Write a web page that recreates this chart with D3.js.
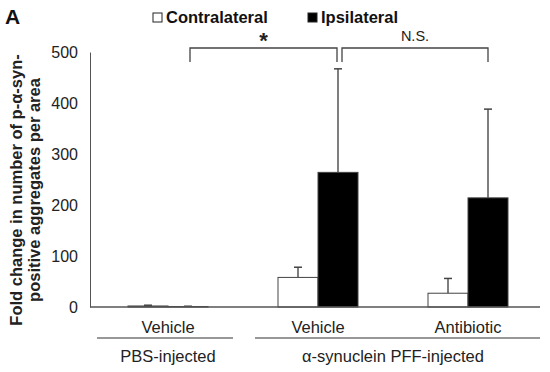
<!DOCTYPE html>
<html><head><meta charset="utf-8">
<script src="https://cdn.jsdelivr.net/npm/d3@7"></script>
<style>body{margin:0;background:#fff}svg{display:block}text{font-family:Arial,"Liberation Sans",sans-serif}</style>
</head><body><svg id="c" width="550" height="372"></svg>
<script>
const groups = ["PBS-Vehicle","PFF-Vehicle","PFF-Antibiotic"];
const groupLabels = ["Vehicle","Vehicle","Antibiotic"];
const series = ["Contralateral","Ipsilateral"];
const contraValues = [2, 58, 27];
const contraErrors = [1.5, 20, 29];
const ipsiValues = [1, 264, 214];
const ipsiErrors = [0.5, 203, 174];
const yTicks = [0,100,200,300,400,500];
const injections = [{label:"PBS-injected", from:0, to:0},{label:"α-synuclein PFF-injected", from:1, to:2}];
const comparisons = [{a:0, b:1, label:"*"},{a:1, b:2, label:"N.S."}];

const svg = d3.select("#c");
const y = d3.scaleLinear().domain([0,500]).range([307,52]);
const x = d3.scaleBand().domain(groups).range([93,543]);
const xi = d3.scaleBand().domain(series).range([0,x.bandwidth()]).paddingOuter(0.875).paddingInner(0);
const fills = {Contralateral:"#fff", Ipsilateral:"#000"};

// Y axis
const yAxis = svg.append("g").attr("transform","translate(90,0)")
  .call(d3.axisLeft(y).tickValues(yTicks).tickSize(0).tickPadding(12));
yAxis.select(".domain").attr("stroke","#555");
yAxis.selectAll("text").attr("font-size",16).attr("fill","#222");

// bars
const data = [];
groups.forEach((g,i)=>{
  data.push({g, s:"Contralateral", v:contraValues[i], e:contraErrors[i]});
  data.push({g, s:"Ipsilateral", v:ipsiValues[i], e:ipsiErrors[i]});
});
const bx = d => x(d.g)+xi(d.s);
// error bars
svg.append("g").selectAll("g").data(data).join("g").each(function(d){
  const cx = bx(d)+xi.bandwidth()/2;
  const g = d3.select(this);
  g.append("line").attr("x1",cx).attr("x2",cx).attr("y1",y(d.v)).attr("y2",y(d.v+d.e)).attr("stroke","#555").attr("stroke-width",1.5);
  g.append("line").attr("x1",cx-4).attr("x2",cx+4).attr("y1",y(d.v+d.e)).attr("y2",y(d.v+d.e)).attr("stroke","#444").attr("stroke-width",1.5);
});
svg.append("g").selectAll("rect").data(data).join("rect")
  .attr("x",bx).attr("width",xi.bandwidth())
  .attr("y",d=>y(d.v)).attr("height",d=>y(0)-y(d.v))
  .attr("fill",d=>fills[d.s]).attr("stroke","#444").attr("stroke-width",1);

// x axis line
svg.append("line").attr("x1",90).attr("x2",540).attr("y1",y(0)).attr("y2",y(0)).attr("stroke","#555").attr("stroke-width",1.5);

// category labels
svg.append("g").selectAll("text").data(groups).join("text")
  .attr("x",(d)=>x(d)+x.bandwidth()/2).attr("y",333).attr("text-anchor","middle")
  .attr("font-size",16.5).attr("fill","#222").text((d,i)=>groupLabels[i]);

// injection brackets
injections.forEach((inj,i)=>{
  const x1 = i===0 ? 97 : 255;
  const x2 = i===0 ? 233 : 540;
  svg.append("line").attr("x1",x1).attr("x2",x2).attr("y1",338).attr("y2",338).attr("stroke","#333").attr("stroke-width",1.2);
  svg.append("text").attr("x",(x(groups[inj.from])+x(groups[inj.to])+x.bandwidth())/2).attr("y",362)
    .attr("text-anchor","middle").attr("font-size",16.5).attr("fill","#222").text(inj.label);
});

// significance brackets
const ipsiCenter = i => x(groups[i])+xi("Ipsilateral")+xi.bandwidth()/2;
comparisons.forEach((c,k)=>{
  const x1 = ipsiCenter(c.a)+ (k===1?4:2), x2 = ipsiCenter(c.b) - (k===0?1:-0);
  const top=48, bot=62;
  svg.append("path").attr("d",`M${x1},${bot}V${top}H${x2}V${bot}`).attr("fill","none").attr("stroke","#444").attr("stroke-width",1.3);
  svg.append("text").attr("x",(x1+x2)/2).attr("y", c.label==="*"?48:41).attr("text-anchor","middle")
    .attr("font-size", c.label==="*"?22:14.5).attr("font-weight", c.label==="*"?"bold":"normal").attr("fill","#222").text(c.label);
});

// legend
const leg = [{s:"Contralateral", x:153},{s:"Ipsilateral", x:308}];
leg.forEach(l=>{
  svg.append("rect").attr("x",l.x).attr("y",13).attr("width",9).attr("height",9)
    .attr("fill",fills[l.s]).attr("stroke","#222").attr("stroke-width",1);
  svg.append("text").attr("x",l.x+13).attr("y",23).attr("font-size",16.5).attr("font-weight","bold").attr("fill","#111").text(l.s);
});

// panel letter
svg.append("text").attr("x",5).attr("y",24).attr("font-size",21).attr("font-weight","bold").attr("fill","#111").text("A");

// y title
const yt = svg.append("text").attr("transform","translate(0,190) rotate(-90)").attr("text-anchor","middle")
  .attr("font-size",16.5).attr("font-weight","bold").attr("fill","#222");
yt.append("tspan").attr("x",0).attr("y",22).text("Fold change in number of p-α-syn-");
yt.append("tspan").attr("x",0).attr("y",40).text("positive aggregates per area");
</script></body></html>
